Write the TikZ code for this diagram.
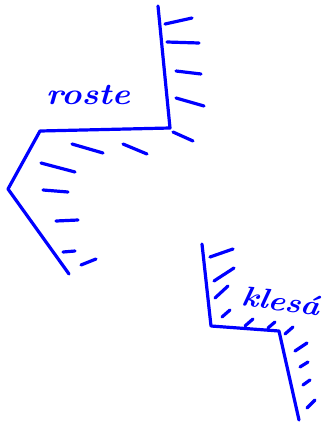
\documentclass[tikz,border=0pt]{standalone}
\usepackage{tkz-euclide}
\usetikzlibrary{calc}

\begin{document}
\begin{tikzpicture}[scale=.3515,line cap=round,line join=round]
\tkzSetUpLine[line width=3.2pt,color=blue]
\useasboundingbox (0,0) rectangle (33.1,42.5);

% upper curve
\tkzDefPoints{15.8/41.9/A,17.0/29.7/B,4.0/29.4/C,0.8/23.6/D,6.9/15.1/E}
% lower curve
\tkzDefPoints{20.2/18.1/F,21.1/9.9/G,27.9/9.4/H,29.9/0.5/K}

% hatching of the upper curve
\tkzDefPoints{16.5/40.1/a1,19.2/40.7/b1,16.7/38.3/a2,19.9/38.2/b2,
  17.6/35.4/a3,20.1/35.1/b3,17.6/32.7/a4,20.4/31.9/b4,
  17.3/29.3/a5,19.3/28.4/b5,7.2/28.1/a6,10.3/27.2/b6,
  12.3/28.1/a7,14.7/27.1/b7,4.1/26.2/a8,7.5/25.3/b8,
  4.3/23.5/a9,6.8/23.3/b9,5.6/20.4/a10,7.8/20.5/b10,
  6.3/17.3/a11,7.5/17.4/b11,8.1/16.0/a12,9.6/16.6/b12}
% hatching of the lower curve
\tkzDefPoints{21.0/16.8/c1,23.3/17.6/d1,21.4/14.4/c2,23.4/15.7/d2,
  21.5/12.7/c3,22.8/13.9/d3,22.2/10.8/c4,23.0/11.5/d4,
  24.5/9.9/c5,25.3/10.6/d5,26.8/9.7/c6,27.5/10.3/d6,
  28.5/9.1/c7,29.3/9.8/d7,29.5/7.4/c8,30.7/8.2/d8,
  30.0/5.8/c9,30.8/6.3/d9,30.3/4.0/c10,31.0/4.5/d10,
  30.7/1.7/c11,31.5/2.5/d11}

\tkzDefPoints{8.8/33.0/R,28.1/12.4/S}

\tkzDrawPolySeg(A,B,C,D,E)
\tkzDrawPolySeg(F,G,H,K)

\tkzDrawSegments(a1,b1 a2,b2 a3,b3 a4,b4 a5,b5 a6,b6 a7,b7 a8,b8 a9,b9 a10,b10 a11,b11 a12,b12)
\tkzDrawSegments(c1,d1 c2,d2 c3,d3 c4,d4 c5,d5 c6,d6 c7,d7 c8,d8 c9,d9 c10,d10 c11,d11)

\node[text=blue,font=\bfseries\itshape\fontsize{30}{30}\selectfont,xscale=1.15] (lroste) at (R) {roste};
\node[text=blue,font=\bfseries\itshape\fontsize{28}{28}\selectfont,xscale=1.15,rotate=-8] (lklesa) at (S) {klesá};

\end{tikzpicture}
\end{document}
